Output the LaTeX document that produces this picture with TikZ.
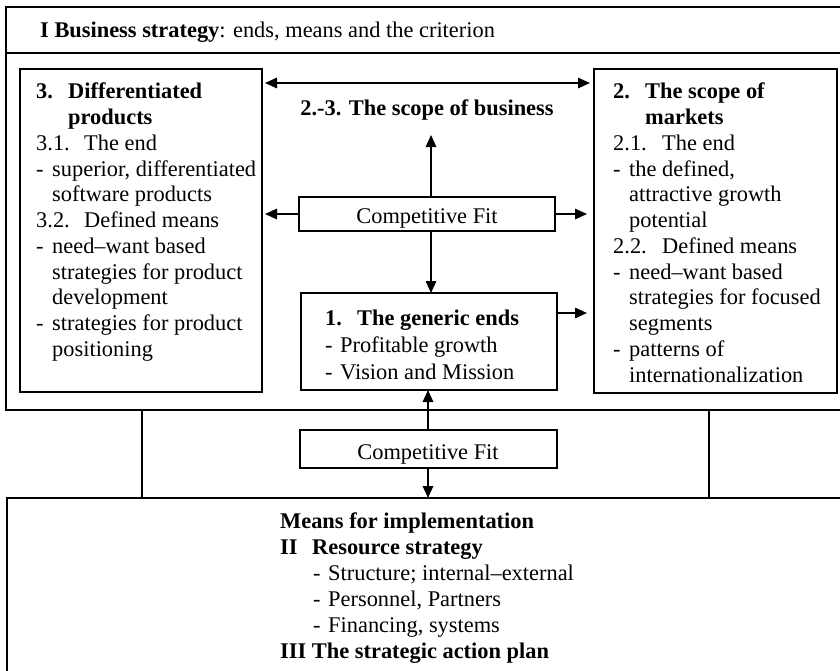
\documentclass[tikz,border=0pt]{standalone}
\usepackage{fontspec}
\setmainfont{Liberation Serif}
\usetikzlibrary{arrows.meta}
\begin{document}
\begin{tikzpicture}[x=1pt,y=-1pt,
 box/.style={draw,line width=1.7pt,inner sep=0pt,outer sep=0pt,anchor=north west},
 txt/.style={inner sep=0pt,anchor=base west,font=\fontsize{22.4}{25.8}\selectfont},
 ctxt/.style={inner sep=0pt,anchor=base,font=\fontsize{22.4}{25.8}\selectfont},
 arr/.style={line width=1.5pt,-{Triangle[length=12pt,width=10.5pt]}},
 darr/.style={line width=1.5pt,{Triangle[length=12pt,width=10.5pt]}-{Triangle[length=12pt,width=10.5pt]}},
 conn/.style={line width=1.7pt}]
\useasboundingbox (0,0) rectangle (840,670);
\clip (0,0) rectangle (840,670);
% frames
\node[box,minimum width=860pt,minimum height=403pt] (outer) at (6,7) {};
\node[box,minimum width=860pt,minimum height=46pt] (titlebar) at (6,7) {};
\node[box,minimum width=860pt,minimum height=200pt] (bottom) at (7,498) {};
\node[box,minimum width=242pt,minimum height=323pt] (left) at (20,69) {};
\node[box,minimum width=243pt,minimum height=324pt] (right) at (594,69) {};
\node[box,minimum width=256pt,minimum height=97pt] (gen) at (301,293) {};
\node[box,minimum width=256pt,minimum height=34pt] (cf1) at (299,197) {};
\node[box,minimum width=257pt,minimum height=38pt] (cf2) at (300,430) {};
% title
\node[txt] (title) at (40,37) {\textbf{I Business strategy}: ends, means and the criterion};
% left box text
\node[txt] (l1a) at (36,98) {\textbf{3.}};
\node[txt] (l1b) at (68,98) {\textbf{Differentiated}};
\node[txt] (l2) at (68,124) {\textbf{products}};
\node[txt] (l3a) at (36,150) {3.1.};
\node[txt] (l3b) at (84,150) {The end};
\node[txt] (l4a) at (36,176) {-};
\node[txt] (l4b) at (52,176) {superior, differentiated};
\node[txt] (l5) at (52,201) {software products};
\node[txt] (l6a) at (36,227) {3.2.};
\node[txt] (l6b) at (84,227) {Defined means};
\node[txt] (l7a) at (36,253) {-};
\node[txt] (l7b) at (52,253) {need--want based};
\node[txt] (l8) at (52,279) {strategies for product};
\node[txt] (l9) at (52,304) {development};
\node[txt] (l10a) at (36,330) {-};
\node[txt] (l10b) at (52,330) {strategies for product};
\node[txt] (l11) at (52,356) {positioning};
% right box text
\node[txt] (r1a) at (613,98) {\textbf{2.}};
\node[txt] (r1b) at (645,98) {\textbf{The scope of}};
\node[txt] (r2) at (645,124) {\textbf{markets}};
\node[txt] (r3a) at (613,150) {2.1.};
\node[txt] (r3b) at (662,150) {The end};
\node[txt] (r4a) at (613,176) {-};
\node[txt] (r4b) at (629,176) {the defined,};
\node[txt] (r5) at (629,201) {attractive growth};
\node[txt] (r6) at (629,227) {potential};
\node[txt] (r7a) at (613,253) {2.2.};
\node[txt] (r7b) at (662,253) {Defined means};
\node[txt] (r8a) at (613,279) {-};
\node[txt] (r8b) at (629,279) {need--want based};
\node[txt] (r9) at (629,304) {strategies for focused};
\node[txt] (r10) at (629,330) {segments};
\node[txt] (r11a) at (613,356) {-};
\node[txt] (r11b) at (629,356) {patterns of};
\node[txt] (r12) at (629,382) {internationalization};
% generic ends
\node[txt] (g1a) at (325,325) {\textbf{1.}};
\node[txt] (g1b) at (357,325) {\textbf{The generic ends}};
\node[txt] (g2a) at (325,352) {-};
\node[txt] (g2b) at (340,352) {Profitable growth};
\node[txt] (g3a) at (325,379) {-};
\node[txt] (g3b) at (340,379) {Vision and Mission};
% centre labels
\node[ctxt] (scope) at (427,115) {\textbf{2.-3. The scope of business}};
\node[ctxt] (cf1t) at (427,223) {Competitive Fit};
\node[ctxt] (cf2t) at (428,459) {Competitive Fit};
% bottom text
\node[txt] (b1) at (280,528) {\textbf{Means for implementation}};
\node[txt] (b2a) at (280,554) {\textbf{II}};
\node[txt] (b2b) at (312,554) {\textbf{Resource strategy}};
\node[txt] (b3a) at (313,580) {-};
\node[txt] (b3b) at (328,580) {Structure; internal--external};
\node[txt] (b4a) at (313,606) {-};
\node[txt] (b4b) at (328,606) {Personnel, Partners};
\node[txt] (b5a) at (313,632) {-};
\node[txt] (b5b) at (328,632) {Financing, systems};
\node[txt] (b6) at (280,658) {\textbf{III The strategic action plan}};
% connectors
\draw[darr,shorten <=3pt,shorten >=4pt] (left.east |- 0,83) -- (right.west |- 0,83);
\draw[arr,shorten >=3pt] (cf1.west) -- (left.east |- cf1.west);
\draw[arr,shorten >=7pt] (cf1.east) -- (right.west |- cf1.east);
\coordinate (uptip) at (431,135);
\draw[arr] (cf1.north -| uptip) -- (uptip);
\draw[arr] (cf1.south -| uptip) -- (gen.north -| uptip);
\draw[arr,shorten >=7pt] (gen.east |- 0,313) -- (right.west |- 0,313);
\coordinate (cx) at (428,0);
\draw[arr] (cf2.north -| cx) -- (gen.south -| cx);
\draw[arr] (cf2.south -| cx) -- (bottom.north -| cx);
\draw[conn] (outer.south -| 142,0) -- (bottom.north -| 142,0);
\draw[conn] (outer.south -| 709,0) -- (bottom.north -| 709,0);
\end{tikzpicture}
\end{document}
